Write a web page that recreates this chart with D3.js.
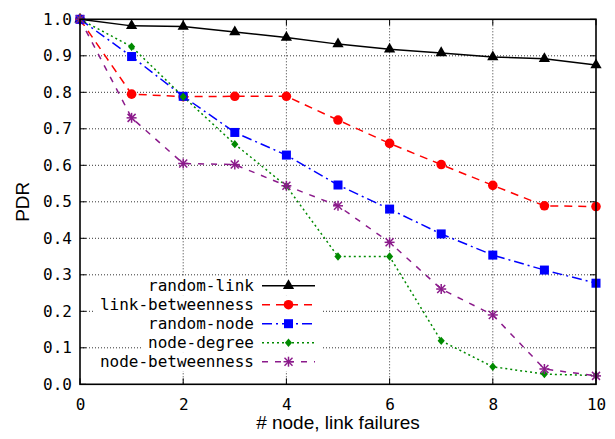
<!DOCTYPE html>
<html><head><meta charset="utf-8">
<script src="https://cdn.jsdelivr.net/npm/d3@7"></script>
<style>body{margin:0;background:#fff}</style>
</head><body>
<svg id="c" width="615" height="439"></svg>
<script>
const xValues = [0,1,2,3,4,5,6,7,8,9,10];
const randomLink = [1.0,0.982,0.980,0.965,0.950,0.932,0.918,0.908,0.897,0.892,0.875];
const linkBetweenness = [1.0,0.795,0.788,0.789,0.789,0.724,0.660,0.602,0.545,0.489,0.487];
const randomNode = [1.0,0.898,0.789,0.690,0.628,0.546,0.480,0.412,0.354,0.313,0.277];
const nodeDegree = [1.0,0.925,0.788,0.658,0.543,0.350,0.350,0.119,0.048,0.028,0.024];
const nodeBetweenness = [1.0,0.730,0.605,0.602,0.544,0.489,0.389,0.261,0.190,0.042,0.023];
const seriesNames = ["random-link","link-betweenness","random-node","node-degree","node-betweenness"];
const xTicks = [0,2,4,6,8,10];
const yTicks = [0,0.1,0.2,0.3,0.4,0.5,0.6,0.7,0.8,0.9,1.0];

const styles = [
  {color:"#000000", dash:null, marker:"triangle", w:1.5},
  {color:"#ff0000", dash:"8,6", marker:"circle", w:1.5},
  {color:"#0000ff", dash:"10,4,2,4", marker:"square", w:1.5},
  {color:"#008a00", dash:"2,3", marker:"diamond", w:1.5},
  {color:"#8b1a8b", dash:"6,7", marker:"star", w:1.5}
];
const data = [randomLink, linkBetweenness, randomNode, nodeDegree, nodeBetweenness];

const svg = d3.select("#c");
const L=80, R=596, T=19.3, B=384.3;
const x = d3.scaleLinear().domain([0,10]).range([L,R]);
const y = d3.scaleLinear().domain([0,1]).range([B,T]);
const mono = "'DejaVu Sans Mono', monospace";

// grid
const g = svg.append("g");
g.selectAll("line.gy").data(yTicks.filter(v=>v>0&&v<1)).enter().append("line")
  .attr("x1",L).attr("x2",R).attr("y1",d=>y(d)).attr("y2",d=>y(d))
  .attr("stroke","#000").attr("stroke-width",0.8).attr("stroke-dasharray","1,2");
g.selectAll("line.gx").data(xTicks.filter(v=>v>0&&v<10)).enter().append("line")
  .attr("y1",T).attr("y2",B).attr("x1",d=>x(d)).attr("x2",d=>x(d))
  .attr("stroke","#000").attr("stroke-width",0.8).attr("stroke-dasharray","1,2");

// axes via d3
const xAxis = d3.axisBottom(x).tickValues(xTicks).tickSize(0).tickPadding(14).tickFormat(d3.format("d"));
const yAxis = d3.axisLeft(y).tickValues(yTicks).tickSize(0).tickPadding(8).tickFormat(d3.format(".1f"));
const xa = svg.append("g").attr("transform",`translate(0,${B})`).call(xAxis);
const ya = svg.append("g").attr("transform",`translate(${L},0)`).call(yAxis);
[xa,ya].forEach(a=>{a.select(".domain").remove();a.selectAll("text").attr("font-family",mono).attr("font-size",16).attr("fill","#000");});

// inward ticks on all sides
const tk = svg.append("g").attr("stroke","#000").attr("stroke-width",1);
xTicks.forEach(v=>{
  tk.append("line").attr("x1",x(v)).attr("x2",x(v)).attr("y1",B).attr("y2",B-6);
  tk.append("line").attr("x1",x(v)).attr("x2",x(v)).attr("y1",T).attr("y2",T+6);
});
yTicks.forEach(v=>{
  tk.append("line").attr("x1",L).attr("x2",L+6).attr("y1",y(v)).attr("y2",y(v));
  tk.append("line").attr("x1",R).attr("x2",R-6).attr("y1",y(v)).attr("y2",y(v));
});

function marker(sel, type, color){
  if(type==="triangle") return sel.append("path").attr("d",d3.symbol(d3.symbolTriangle,55)()).attr("fill",color);
  if(type==="circle") return sel.append("circle").attr("r",4.8).attr("fill",color);
  if(type==="square") return sel.append("rect").attr("x",-4.5).attr("y",-4.5).attr("width",9).attr("height",9).attr("fill",color);
  if(type==="diamond") return sel.append("path").attr("d","M0,-4.2L3.6,0L0,4.2L-3.6,0Z").attr("fill",color);
  if(type==="star"){
    const gg = sel.append("g").attr("stroke",color).attr("stroke-width",1.5);
    gg.append("line").attr("x1",-5).attr("x2",5).attr("y1",0).attr("y2",0);
    gg.append("line").attr("x1",0).attr("x2",0).attr("y1",-5).attr("y2",5);
    gg.append("line").attr("x1",-4).attr("x2",4).attr("y1",-4).attr("y2",4);
    gg.append("line").attr("x1",-4).attr("x2",4).attr("y1",4).attr("y2",-4);
    return gg;
  }
}

const line = d3.line().x((d,i)=>x(xValues[i])).y(d=>y(d));
data.forEach((s,k)=>{
  const st = styles[k];
  svg.append("path").datum(s).attr("d",line).attr("fill","none")
    .attr("stroke",st.color).attr("stroke-width",st.w)
    .attr("stroke-dasharray",st.dash);
});
data.forEach((s,k)=>{
  const st = styles[k];
  s.forEach((v,i)=>{
    const m = svg.append("g").attr("transform",`translate(${x(xValues[i])},${y(v)})`);
    marker(m, st.marker, st.color);
  });
});

// legend
const lg = svg.append("g");
const rowY0 = 285.7, rowH = 19, textRight = 254, sx1 = 262, sx2 = 315, mx = 288.5;
seriesNames.forEach((name,k)=>{
  const cy = rowY0 + k*rowH;
  const bg = lg.append("rect").attr("fill","#fff");
  const t = lg.append("text").attr("x",textRight).attr("y",cy).attr("dy","0.35em")
    .attr("text-anchor","end").attr("font-family",mono).attr("font-size",16).text(name);
  const tw = t.node().getComputedTextLength();
  bg.attr("x",textRight - tw - 6).attr("y",cy - rowH/2).attr("width",sx2 - (textRight - tw - 6) + 6).attr("height",rowH);
  t.raise();
  const st = styles[k];
  lg.append("line").attr("x1",sx1).attr("x2",sx2).attr("y1",cy).attr("y2",cy)
    .attr("stroke",st.color).attr("stroke-width",st.w).attr("stroke-dasharray",st.dash);
  const m = lg.append("g").attr("transform",`translate(${mx},${cy})`);
  marker(m, st.marker, st.color);
});

// border
svg.append("rect").attr("x",L).attr("y",T).attr("width",R-L).attr("height",B-T)
  .attr("fill","none").attr("stroke","#000").attr("stroke-width",1.6);

// axis titles
svg.append("text").attr("x",(L+R)/2).attr("y",429).attr("text-anchor","middle")
  .attr("font-family","'Liberation Sans', Arial, sans-serif").attr("font-size",19).text("# node, link failures");
svg.append("text").attr("transform",`translate(29,${(T+B)/2}) rotate(-90)`).attr("text-anchor","middle")
  .attr("font-family","'Liberation Sans', Arial, sans-serif").attr("font-size",19).text("PDR");
</script>
</body></html>
